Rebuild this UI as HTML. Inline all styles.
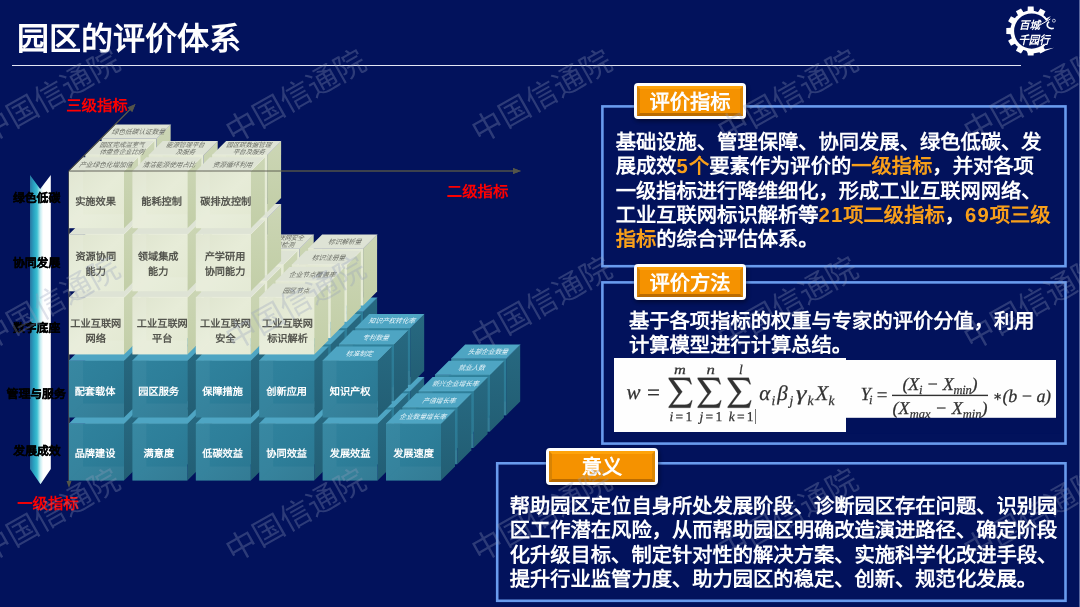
<!DOCTYPE html>
<html lang="zh-CN">
<head>
<meta charset="utf-8">
<title>园区的评价体系</title>
<style>
*{margin:0;padding:0;box-sizing:border-box;text-rendering:geometricPrecision}
html,body{width:1080px;height:607px;overflow:hidden;background:#02125c}
body{font-family:"Liberation Sans",sans-serif;position:relative;color:#fff}
#stage{position:absolute;left:0;top:0;width:1080px;height:607px;overflow:hidden;will-change:transform;opacity:.999}
h1{position:absolute;left:17px;top:18.6px;font-size:32px;line-height:40px;font-weight:bold;color:#fff;white-space:nowrap}
.rule{position:absolute;left:11.5px;top:64.7px;width:1009.5px;height:1.7px;background:#e4e7f5}
.edge{position:absolute;left:1079px;top:0;width:1px;height:607px;background:#5b689f}
svg{position:absolute;left:0;top:0}
svg text{font-family:"Liberation Sans",sans-serif}
svg.fm text{font-family:"Liberation Serif",serif}
.lab{position:absolute;font-weight:bold;color:#000;-webkit-text-stroke:.3px #000;font-size:11.85px;line-height:14px;white-space:nowrap;transform:translate(-50%,-50%)}
.red{position:absolute;font-weight:bold;color:#ff0000;font-size:15.4px;line-height:18px;white-space:nowrap}
.box{position:absolute;border:3px solid #6a9cee;background:#02135f}
.tag{position:absolute;height:37px;border:3px solid #fff;border-radius:4px;background:#f69300;box-shadow:1px 2px 4px rgba(0,0,20,.55);color:#fff;font-weight:bold;font-size:20.3px;line-height:35.6px;text-align:center;white-space:nowrap}
.tag::before{content:"";position:absolute;left:0;top:0;right:0;bottom:0;border-style:solid;border-width:3px;border-color:#ffa40c #dd8804 #bb6c00 #d98404;border-radius:1px}
.tag span{position:relative}
.txt{position:absolute;font-weight:bold;font-size:20.3px;line-height:24.3px;color:#fff;white-space:nowrap}
.txt b{color:#f9a01b}
.txt i{font-style:normal;letter-spacing:1.1px}
.wm{position:absolute;width:200px;height:50px;line-height:50px;text-align:center;font-size:31px;color:rgba(150,160,190,.3);transform:rotate(-29.5deg);white-space:nowrap;pointer-events:none}
.fx{position:absolute;background:#fff}
</style>
</head>
<body>
<div id="stage">
<h1>园区的评价体系</h1>
<div class="rule"></div>
<div class="edge"></div>

<svg width="1080" height="607" viewBox="0 0 1080 607">
<defs>
<linearGradient id="gf" x1="0" y1="0" x2="1" y2="1"><stop offset="0" stop-color="#dfe5cf"/><stop offset=".5" stop-color="#e8edd9"/><stop offset="1" stop-color="#e3e9d2"/></linearGradient>
<linearGradient id="gs" x1="0" y1="0" x2="0" y2="1"><stop offset="0" stop-color="#cdd7b6"/><stop offset="1" stop-color="#c3cfa8"/></linearGradient>
<linearGradient id="tf" x1="0" y1="0" x2="1" y2="1"><stop offset="0" stop-color="#31849f"/><stop offset=".5" stop-color="#2e7f9a"/><stop offset="1" stop-color="#2b7791"/></linearGradient>
<linearGradient id="ts" x1="0" y1="0" x2="0" y2="1"><stop offset="0" stop-color="#286a82"/><stop offset="1" stop-color="#235f75"/></linearGradient>
<linearGradient id="ar" x1="0" y1="0" x2="1" y2="0"><stop offset="0" stop-color="#2b78a2"/><stop offset=".18" stop-color="#2aa2c2"/><stop offset=".34" stop-color="#3cc0d2"/><stop offset=".5" stop-color="#c8eef2"/><stop offset=".63" stop-color="#ffffff"/><stop offset="1" stop-color="#ffffff"/></linearGradient>
</defs>
<!-- axes -->
<g stroke="#55564a" stroke-width="1.2" fill="#55564a">
<line x1="69" y1="171" x2="516" y2="171"/>
<polygon points="521,171 513,168 513,174" stroke="none"/>
<line x1="69" y1="171" x2="132" y2="107.5"/>
<polygon points="135.5,104 127.6,107.4 132.2,112" stroke="none"/>
<line x1="69" y1="171" x2="69" y2="483"/>
<polygon points="69,488 66.5,481 71.5,481" stroke="none"/>
</g>
<!-- left arrow -->
<polygon points="30,175 40.2,189 50.8,175 50.8,469 40.5,484.2 30,469" fill="url(#ar)"/>
<!-- cubes -->
<g id="cubes">
<polygon points="506.2,358.4 520.2,344.4 520.2,401.4 506.2,415.4" fill="url(#ts)"/>
<polygon points="451.2,358.4 465.2,344.4 520.2,344.4 506.2,358.4" fill="#4fa6c4"/>
<rect x="451.2" y="358.4" width="55" height="57" fill="url(#tf)"/>
<polygon points="451.2,358.4 465.2,358.4 465.2,401.4 451.2,415.4" fill="#ffffff" opacity="0.045"/>
<polygon points="451.2,415.4 465.2,401.4 506.2,401.4 506.2,415.4" fill="#ffffff" opacity="0.045"/>
<path d="M451.2,358.4 h55 M506.2,358.4 l14,-14" stroke="#62b5d0" stroke-width="0.6" fill="none" opacity="0.7"/>
<text x="487.5" y="353.8" font-size="6.65" fill="#eaf6fb" text-anchor="middle" font-style="italic" transform="translate(487.5,353.8) skewX(-12) translate(-487.5,-353.8)">头部企业数量</text>
<polygon points="363.1,374.7 377.1,360.7 377.1,417.7 363.1,431.7" fill="url(#ts)"/>
<polygon points="308.1,374.7 322.1,360.7 377.1,360.7 363.1,374.7" fill="#4fa6c4"/>
<rect x="308.1" y="374.7" width="55" height="57" fill="url(#tf)"/>
<polygon points="308.1,374.7 322.1,374.7 322.1,417.7 308.1,431.7" fill="#ffffff" opacity="0.045"/>
<polygon points="308.1,431.7 322.1,417.7 363.1,417.7 363.1,431.7" fill="#ffffff" opacity="0.045"/>
<path d="M308.1,374.7 h55 M363.1,374.7 l14,-14" stroke="#62b5d0" stroke-width="0.6" fill="none" opacity="0.7"/>
<polygon points="489.9,374.7 503.9,360.7 503.9,417.7 489.9,431.7" fill="url(#ts)"/>
<polygon points="434.9,374.7 448.9,360.7 503.9,360.7 489.9,374.7" fill="#4fa6c4"/>
<rect x="434.9" y="374.7" width="55" height="57" fill="url(#tf)"/>
<polygon points="434.9,374.7 448.9,374.7 448.9,417.7 434.9,431.7" fill="#ffffff" opacity="0.045"/>
<polygon points="434.9,431.7 448.9,417.7 489.9,417.7 489.9,431.7" fill="#ffffff" opacity="0.045"/>
<path d="M434.9,374.7 h55 M489.9,374.7 l14,-14" stroke="#62b5d0" stroke-width="0.6" fill="none" opacity="0.7"/>
<text x="471.2" y="370.1" font-size="6.65" fill="#eaf6fb" text-anchor="middle" font-style="italic" transform="translate(471.2,370.1) skewX(-12) translate(-471.2,-370.1)">就业人数</text>
<polygon points="299.7,311.6 313.7,297.6 313.7,354.6 299.7,368.6" fill="url(#ts)"/>
<polygon points="244.7,311.6 258.7,297.6 313.7,297.6 299.7,311.6" fill="#4fa6c4"/>
<rect x="244.7" y="311.6" width="55" height="57" fill="url(#tf)"/>
<polygon points="244.7,311.6 258.7,311.6 258.7,354.6 244.7,368.6" fill="#ffffff" opacity="0.045"/>
<polygon points="244.7,368.6 258.7,354.6 299.7,354.6 299.7,368.6" fill="#ffffff" opacity="0.045"/>
<path d="M244.7,311.6 h55 M299.7,311.6 l14,-14" stroke="#62b5d0" stroke-width="0.6" fill="none" opacity="0.7"/>
<polygon points="363.1,311.6 377.1,297.6 377.1,354.6 363.1,368.6" fill="url(#ts)"/>
<polygon points="308.1,311.6 322.1,297.6 377.1,297.6 363.1,311.6" fill="#4fa6c4"/>
<rect x="308.1" y="311.6" width="55" height="57" fill="url(#tf)"/>
<polygon points="308.1,311.6 322.1,311.6 322.1,354.6 308.1,368.6" fill="#ffffff" opacity="0.045"/>
<polygon points="308.1,368.6 322.1,354.6 363.1,354.6 363.1,368.6" fill="#ffffff" opacity="0.045"/>
<path d="M308.1,311.6 h55 M363.1,311.6 l14,-14" stroke="#62b5d0" stroke-width="0.6" fill="none" opacity="0.7"/>
<polygon points="299.7,248.5 313.7,234.5 313.7,291.5 299.7,305.5" fill="url(#gs)"/>
<polygon points="244.7,248.5 258.7,234.5 313.7,234.5 299.7,248.5" fill="#dfe4d6"/>
<rect x="244.7" y="248.5" width="55" height="57" fill="url(#gf)"/>
<polygon points="244.7,248.5 258.7,248.5 258.7,291.5 244.7,305.5" fill="#ffffff" opacity="0.1"/>
<polygon points="244.7,305.5 258.7,291.5 299.7,291.5 299.7,305.5" fill="#ffffff" opacity="0.1"/>
<path d="M244.7,248.5 h55 M299.7,248.5 l14,-14" stroke="#f2f5e8" stroke-width="0.6" fill="none" opacity="0.7"/>
<text x="281" y="240.3" font-size="6.4" fill="#6b6e66" text-anchor="middle" font-style="italic" transform="translate(281,240.3) skewX(-12) translate(-281,-240.3)">工业互联网安全</text>
<text x="281" y="247.3" font-size="6.4" fill="#6b6e66" text-anchor="middle" font-style="italic" transform="translate(281,247.3) skewX(-12) translate(-281,-247.3)">保障检测</text>
<polygon points="363.1,248.5 377.1,234.5 377.1,291.5 363.1,305.5" fill="url(#gs)"/>
<polygon points="308.1,248.5 322.1,234.5 377.1,234.5 363.1,248.5" fill="#dfe4d6"/>
<rect x="308.1" y="248.5" width="55" height="57" fill="url(#gf)"/>
<polygon points="308.1,248.5 322.1,248.5 322.1,291.5 308.1,305.5" fill="#ffffff" opacity="0.1"/>
<polygon points="308.1,305.5 322.1,291.5 363.1,291.5 363.1,305.5" fill="#ffffff" opacity="0.1"/>
<path d="M308.1,248.5 h55 M363.1,248.5 l14,-14" stroke="#f2f5e8" stroke-width="0.6" fill="none" opacity="0.7"/>
<text x="344.4" y="243.9" font-size="6.65" fill="#6b6e66" text-anchor="middle" font-style="italic" transform="translate(344.4,243.9) skewX(-12) translate(-344.4,-243.9)">标识解析量</text>
<polygon points="156.6,391 170.6,377 170.6,434 156.6,448" fill="url(#ts)"/>
<polygon points="101.6,391 115.6,377 170.6,377 156.6,391" fill="#4fa6c4"/>
<rect x="101.6" y="391" width="55" height="57" fill="url(#tf)"/>
<polygon points="101.6,391 115.6,391 115.6,434 101.6,448" fill="#ffffff" opacity="0.045"/>
<polygon points="101.6,448 115.6,434 156.6,434 156.6,448" fill="#ffffff" opacity="0.045"/>
<path d="M101.6,391 h55 M156.6,391 l14,-14" stroke="#62b5d0" stroke-width="0.6" fill="none" opacity="0.7"/>
<polygon points="220,391 234,377 234,434 220,448" fill="url(#ts)"/>
<polygon points="165,391 179,377 234,377 220,391" fill="#4fa6c4"/>
<rect x="165" y="391" width="55" height="57" fill="url(#tf)"/>
<polygon points="165,391 179,391 179,434 165,448" fill="#ffffff" opacity="0.045"/>
<polygon points="165,448 179,434 220,434 220,448" fill="#ffffff" opacity="0.045"/>
<path d="M165,391 h55 M220,391 l14,-14" stroke="#62b5d0" stroke-width="0.6" fill="none" opacity="0.7"/>
<polygon points="283.4,391 297.4,377 297.4,434 283.4,448" fill="url(#ts)"/>
<polygon points="228.4,391 242.4,377 297.4,377 283.4,391" fill="#4fa6c4"/>
<rect x="228.4" y="391" width="55" height="57" fill="url(#tf)"/>
<polygon points="228.4,391 242.4,391 242.4,434 228.4,448" fill="#ffffff" opacity="0.045"/>
<polygon points="228.4,448 242.4,434 283.4,434 283.4,448" fill="#ffffff" opacity="0.045"/>
<path d="M228.4,391 h55 M283.4,391 l14,-14" stroke="#62b5d0" stroke-width="0.6" fill="none" opacity="0.7"/>
<polygon points="346.8,391 360.8,377 360.8,434 346.8,448" fill="url(#ts)"/>
<polygon points="291.8,391 305.8,377 360.8,377 346.8,391" fill="#4fa6c4"/>
<rect x="291.8" y="391" width="55" height="57" fill="url(#tf)"/>
<polygon points="291.8,391 305.8,391 305.8,434 291.8,448" fill="#ffffff" opacity="0.045"/>
<polygon points="291.8,448 305.8,434 346.8,434 346.8,448" fill="#ffffff" opacity="0.045"/>
<path d="M291.8,391 h55 M346.8,391 l14,-14" stroke="#62b5d0" stroke-width="0.6" fill="none" opacity="0.7"/>
<polygon points="410.2,391 424.2,377 424.2,434 410.2,448" fill="url(#ts)"/>
<polygon points="355.2,391 369.2,377 424.2,377 410.2,391" fill="#4fa6c4"/>
<rect x="355.2" y="391" width="55" height="57" fill="url(#tf)"/>
<polygon points="355.2,391 369.2,391 369.2,434 355.2,448" fill="#ffffff" opacity="0.045"/>
<polygon points="355.2,448 369.2,434 410.2,434 410.2,448" fill="#ffffff" opacity="0.045"/>
<path d="M355.2,391 h55 M410.2,391 l14,-14" stroke="#62b5d0" stroke-width="0.6" fill="none" opacity="0.7"/>
<polygon points="473.6,391 487.6,377 487.6,434 473.6,448" fill="url(#ts)"/>
<polygon points="418.6,391 432.6,377 487.6,377 473.6,391" fill="#4fa6c4"/>
<rect x="418.6" y="391" width="55" height="57" fill="url(#tf)"/>
<polygon points="418.6,391 432.6,391 432.6,434 418.6,448" fill="#ffffff" opacity="0.045"/>
<polygon points="418.6,448 432.6,434 473.6,434 473.6,448" fill="#ffffff" opacity="0.045"/>
<path d="M418.6,391 h55 M473.6,391 l14,-14" stroke="#62b5d0" stroke-width="0.6" fill="none" opacity="0.7"/>
<text x="454.9" y="386.4" font-size="6.65" fill="#eaf6fb" text-anchor="middle" font-style="italic" transform="translate(454.9,386.4) skewX(-12) translate(-454.9,-386.4)">新兴企业增长率</text>
<polygon points="156.6,327.9 170.6,313.9 170.6,370.9 156.6,384.9" fill="url(#ts)"/>
<polygon points="101.6,327.9 115.6,313.9 170.6,313.9 156.6,327.9" fill="#4fa6c4"/>
<rect x="101.6" y="327.9" width="55" height="57" fill="url(#tf)"/>
<polygon points="101.6,327.9 115.6,327.9 115.6,370.9 101.6,384.9" fill="#ffffff" opacity="0.045"/>
<polygon points="101.6,384.9 115.6,370.9 156.6,370.9 156.6,384.9" fill="#ffffff" opacity="0.045"/>
<path d="M101.6,327.9 h55 M156.6,327.9 l14,-14" stroke="#62b5d0" stroke-width="0.6" fill="none" opacity="0.7"/>
<polygon points="220,327.9 234,313.9 234,370.9 220,384.9" fill="url(#ts)"/>
<polygon points="165,327.9 179,313.9 234,313.9 220,327.9" fill="#4fa6c4"/>
<rect x="165" y="327.9" width="55" height="57" fill="url(#tf)"/>
<polygon points="165,327.9 179,327.9 179,370.9 165,384.9" fill="#ffffff" opacity="0.045"/>
<polygon points="165,384.9 179,370.9 220,370.9 220,384.9" fill="#ffffff" opacity="0.045"/>
<path d="M165,327.9 h55 M220,327.9 l14,-14" stroke="#62b5d0" stroke-width="0.6" fill="none" opacity="0.7"/>
<polygon points="283.4,327.9 297.4,313.9 297.4,370.9 283.4,384.9" fill="url(#ts)"/>
<polygon points="228.4,327.9 242.4,313.9 297.4,313.9 283.4,327.9" fill="#4fa6c4"/>
<rect x="228.4" y="327.9" width="55" height="57" fill="url(#tf)"/>
<polygon points="228.4,327.9 242.4,327.9 242.4,370.9 228.4,384.9" fill="#ffffff" opacity="0.045"/>
<polygon points="228.4,384.9 242.4,370.9 283.4,370.9 283.4,384.9" fill="#ffffff" opacity="0.045"/>
<path d="M228.4,327.9 h55 M283.4,327.9 l14,-14" stroke="#62b5d0" stroke-width="0.6" fill="none" opacity="0.7"/>
<polygon points="346.8,327.9 360.8,313.9 360.8,370.9 346.8,384.9" fill="url(#ts)"/>
<polygon points="291.8,327.9 305.8,313.9 360.8,313.9 346.8,327.9" fill="#4fa6c4"/>
<rect x="291.8" y="327.9" width="55" height="57" fill="url(#tf)"/>
<polygon points="291.8,327.9 305.8,327.9 305.8,370.9 291.8,384.9" fill="#ffffff" opacity="0.045"/>
<polygon points="291.8,384.9 305.8,370.9 346.8,370.9 346.8,384.9" fill="#ffffff" opacity="0.045"/>
<path d="M291.8,327.9 h55 M346.8,327.9 l14,-14" stroke="#62b5d0" stroke-width="0.6" fill="none" opacity="0.7"/>
<polygon points="410.2,327.9 424.2,313.9 424.2,370.9 410.2,384.9" fill="url(#ts)"/>
<polygon points="355.2,327.9 369.2,313.9 424.2,313.9 410.2,327.9" fill="#4fa6c4"/>
<rect x="355.2" y="327.9" width="55" height="57" fill="url(#tf)"/>
<polygon points="355.2,327.9 369.2,327.9 369.2,370.9 355.2,384.9" fill="#ffffff" opacity="0.045"/>
<polygon points="355.2,384.9 369.2,370.9 410.2,370.9 410.2,384.9" fill="#ffffff" opacity="0.045"/>
<path d="M355.2,327.9 h55 M410.2,327.9 l14,-14" stroke="#62b5d0" stroke-width="0.6" fill="none" opacity="0.7"/>
<text x="391.5" y="323.3" font-size="6.65" fill="#eaf6fb" text-anchor="middle" font-style="italic" transform="translate(391.5,323.3) skewX(-12) translate(-391.5,-323.3)">知识产权转化率</text>
<polygon points="156.6,264.8 170.6,250.8 170.6,307.8 156.6,321.8" fill="url(#gs)"/>
<polygon points="101.6,264.8 115.6,250.8 170.6,250.8 156.6,264.8" fill="#dfe4d6"/>
<rect x="101.6" y="264.8" width="55" height="57" fill="url(#gf)"/>
<polygon points="101.6,264.8 115.6,264.8 115.6,307.8 101.6,321.8" fill="#ffffff" opacity="0.1"/>
<polygon points="101.6,321.8 115.6,307.8 156.6,307.8 156.6,321.8" fill="#ffffff" opacity="0.1"/>
<path d="M101.6,264.8 h55 M156.6,264.8 l14,-14" stroke="#f2f5e8" stroke-width="0.6" fill="none" opacity="0.7"/>
<polygon points="220,264.8 234,250.8 234,307.8 220,321.8" fill="url(#gs)"/>
<polygon points="165,264.8 179,250.8 234,250.8 220,264.8" fill="#dfe4d6"/>
<rect x="165" y="264.8" width="55" height="57" fill="url(#gf)"/>
<polygon points="165,264.8 179,264.8 179,307.8 165,321.8" fill="#ffffff" opacity="0.1"/>
<polygon points="165,321.8 179,307.8 220,307.8 220,321.8" fill="#ffffff" opacity="0.1"/>
<path d="M165,264.8 h55 M220,264.8 l14,-14" stroke="#f2f5e8" stroke-width="0.6" fill="none" opacity="0.7"/>
<polygon points="283.4,264.8 297.4,250.8 297.4,307.8 283.4,321.8" fill="url(#gs)"/>
<polygon points="228.4,264.8 242.4,250.8 297.4,250.8 283.4,264.8" fill="#dfe4d6"/>
<rect x="228.4" y="264.8" width="55" height="57" fill="url(#gf)"/>
<polygon points="228.4,264.8 242.4,264.8 242.4,307.8 228.4,321.8" fill="#ffffff" opacity="0.1"/>
<polygon points="228.4,321.8 242.4,307.8 283.4,307.8 283.4,321.8" fill="#ffffff" opacity="0.1"/>
<path d="M228.4,264.8 h55 M283.4,264.8 l14,-14" stroke="#f2f5e8" stroke-width="0.6" fill="none" opacity="0.7"/>
<polygon points="346.8,264.8 360.8,250.8 360.8,307.8 346.8,321.8" fill="url(#gs)"/>
<polygon points="291.8,264.8 305.8,250.8 360.8,250.8 346.8,264.8" fill="#dfe4d6"/>
<rect x="291.8" y="264.8" width="55" height="57" fill="url(#gf)"/>
<polygon points="291.8,264.8 305.8,264.8 305.8,307.8 291.8,321.8" fill="#ffffff" opacity="0.1"/>
<polygon points="291.8,321.8 305.8,307.8 346.8,307.8 346.8,321.8" fill="#ffffff" opacity="0.1"/>
<path d="M291.8,264.8 h55 M346.8,264.8 l14,-14" stroke="#f2f5e8" stroke-width="0.6" fill="none" opacity="0.7"/>
<text x="328.1" y="260.2" font-size="6.65" fill="#6b6e66" text-anchor="middle" font-style="italic" transform="translate(328.1,260.2) skewX(-12) translate(-328.1,-260.2)">标识注册量</text>
<polygon points="156.6,201.7 170.6,187.7 170.6,244.7 156.6,258.7" fill="url(#gs)"/>
<polygon points="101.6,201.7 115.6,187.7 170.6,187.7 156.6,201.7" fill="#dfe4d6"/>
<rect x="101.6" y="201.7" width="55" height="57" fill="url(#gf)"/>
<polygon points="101.6,201.7 115.6,201.7 115.6,244.7 101.6,258.7" fill="#ffffff" opacity="0.1"/>
<polygon points="101.6,258.7 115.6,244.7 156.6,244.7 156.6,258.7" fill="#ffffff" opacity="0.1"/>
<path d="M101.6,201.7 h55 M156.6,201.7 l14,-14" stroke="#f2f5e8" stroke-width="0.6" fill="none" opacity="0.7"/>
<polygon points="156.6,138.6 170.6,124.6 170.6,181.6 156.6,195.6" fill="url(#gs)"/>
<polygon points="101.6,138.6 115.6,124.6 170.6,124.6 156.6,138.6" fill="#dfe4d6"/>
<rect x="101.6" y="138.6" width="55" height="57" fill="url(#gf)"/>
<polygon points="101.6,138.6 115.6,138.6 115.6,181.6 101.6,195.6" fill="#ffffff" opacity="0.1"/>
<polygon points="101.6,195.6 115.6,181.6 156.6,181.6 156.6,195.6" fill="#ffffff" opacity="0.1"/>
<path d="M101.6,138.6 h55 M156.6,138.6 l14,-14" stroke="#f2f5e8" stroke-width="0.6" fill="none" opacity="0.7"/>
<text x="137.9" y="134" font-size="6.65" fill="#6b6e66" text-anchor="middle" font-style="italic" transform="translate(137.9,134) skewX(-12) translate(-137.9,-134)">绿色低碳认证数量</text>
<polygon points="140.3,407.3 154.3,393.3 154.3,450.3 140.3,464.3" fill="url(#ts)"/>
<polygon points="85.3,407.3 99.3,393.3 154.3,393.3 140.3,407.3" fill="#4fa6c4"/>
<rect x="85.3" y="407.3" width="55" height="57" fill="url(#tf)"/>
<polygon points="85.3,407.3 99.3,407.3 99.3,450.3 85.3,464.3" fill="#ffffff" opacity="0.045"/>
<polygon points="85.3,464.3 99.3,450.3 140.3,450.3 140.3,464.3" fill="#ffffff" opacity="0.045"/>
<path d="M85.3,407.3 h55 M140.3,407.3 l14,-14" stroke="#62b5d0" stroke-width="0.6" fill="none" opacity="0.7"/>
<polygon points="203.7,407.3 217.7,393.3 217.7,450.3 203.7,464.3" fill="url(#ts)"/>
<polygon points="148.7,407.3 162.7,393.3 217.7,393.3 203.7,407.3" fill="#4fa6c4"/>
<rect x="148.7" y="407.3" width="55" height="57" fill="url(#tf)"/>
<polygon points="148.7,407.3 162.7,407.3 162.7,450.3 148.7,464.3" fill="#ffffff" opacity="0.045"/>
<polygon points="148.7,464.3 162.7,450.3 203.7,450.3 203.7,464.3" fill="#ffffff" opacity="0.045"/>
<path d="M148.7,407.3 h55 M203.7,407.3 l14,-14" stroke="#62b5d0" stroke-width="0.6" fill="none" opacity="0.7"/>
<polygon points="267.1,407.3 281.1,393.3 281.1,450.3 267.1,464.3" fill="url(#ts)"/>
<polygon points="212.1,407.3 226.1,393.3 281.1,393.3 267.1,407.3" fill="#4fa6c4"/>
<rect x="212.1" y="407.3" width="55" height="57" fill="url(#tf)"/>
<polygon points="212.1,407.3 226.1,407.3 226.1,450.3 212.1,464.3" fill="#ffffff" opacity="0.045"/>
<polygon points="212.1,464.3 226.1,450.3 267.1,450.3 267.1,464.3" fill="#ffffff" opacity="0.045"/>
<path d="M212.1,407.3 h55 M267.1,407.3 l14,-14" stroke="#62b5d0" stroke-width="0.6" fill="none" opacity="0.7"/>
<polygon points="330.5,407.3 344.5,393.3 344.5,450.3 330.5,464.3" fill="url(#ts)"/>
<polygon points="275.5,407.3 289.5,393.3 344.5,393.3 330.5,407.3" fill="#4fa6c4"/>
<rect x="275.5" y="407.3" width="55" height="57" fill="url(#tf)"/>
<polygon points="275.5,407.3 289.5,407.3 289.5,450.3 275.5,464.3" fill="#ffffff" opacity="0.045"/>
<polygon points="275.5,464.3 289.5,450.3 330.5,450.3 330.5,464.3" fill="#ffffff" opacity="0.045"/>
<path d="M275.5,407.3 h55 M330.5,407.3 l14,-14" stroke="#62b5d0" stroke-width="0.6" fill="none" opacity="0.7"/>
<polygon points="393.9,407.3 407.9,393.3 407.9,450.3 393.9,464.3" fill="url(#ts)"/>
<polygon points="338.9,407.3 352.9,393.3 407.9,393.3 393.9,407.3" fill="#4fa6c4"/>
<rect x="338.9" y="407.3" width="55" height="57" fill="url(#tf)"/>
<polygon points="338.9,407.3 352.9,407.3 352.9,450.3 338.9,464.3" fill="#ffffff" opacity="0.045"/>
<polygon points="338.9,464.3 352.9,450.3 393.9,450.3 393.9,464.3" fill="#ffffff" opacity="0.045"/>
<path d="M338.9,407.3 h55 M393.9,407.3 l14,-14" stroke="#62b5d0" stroke-width="0.6" fill="none" opacity="0.7"/>
<polygon points="457.3,407.3 471.3,393.3 471.3,450.3 457.3,464.3" fill="url(#ts)"/>
<polygon points="402.3,407.3 416.3,393.3 471.3,393.3 457.3,407.3" fill="#4fa6c4"/>
<rect x="402.3" y="407.3" width="55" height="57" fill="url(#tf)"/>
<polygon points="402.3,407.3 416.3,407.3 416.3,450.3 402.3,464.3" fill="#ffffff" opacity="0.045"/>
<polygon points="402.3,464.3 416.3,450.3 457.3,450.3 457.3,464.3" fill="#ffffff" opacity="0.045"/>
<path d="M402.3,407.3 h55 M457.3,407.3 l14,-14" stroke="#62b5d0" stroke-width="0.6" fill="none" opacity="0.7"/>
<text x="438.6" y="402.7" font-size="6.65" fill="#eaf6fb" text-anchor="middle" font-style="italic" transform="translate(438.6,402.7) skewX(-12) translate(-438.6,-402.7)">产值增长率</text>
<polygon points="140.3,344.2 154.3,330.2 154.3,387.2 140.3,401.2" fill="url(#ts)"/>
<polygon points="85.3,344.2 99.3,330.2 154.3,330.2 140.3,344.2" fill="#4fa6c4"/>
<rect x="85.3" y="344.2" width="55" height="57" fill="url(#tf)"/>
<polygon points="85.3,344.2 99.3,344.2 99.3,387.2 85.3,401.2" fill="#ffffff" opacity="0.045"/>
<polygon points="85.3,401.2 99.3,387.2 140.3,387.2 140.3,401.2" fill="#ffffff" opacity="0.045"/>
<path d="M85.3,344.2 h55 M140.3,344.2 l14,-14" stroke="#62b5d0" stroke-width="0.6" fill="none" opacity="0.7"/>
<polygon points="203.7,344.2 217.7,330.2 217.7,387.2 203.7,401.2" fill="url(#ts)"/>
<polygon points="148.7,344.2 162.7,330.2 217.7,330.2 203.7,344.2" fill="#4fa6c4"/>
<rect x="148.7" y="344.2" width="55" height="57" fill="url(#tf)"/>
<polygon points="148.7,344.2 162.7,344.2 162.7,387.2 148.7,401.2" fill="#ffffff" opacity="0.045"/>
<polygon points="148.7,401.2 162.7,387.2 203.7,387.2 203.7,401.2" fill="#ffffff" opacity="0.045"/>
<path d="M148.7,344.2 h55 M203.7,344.2 l14,-14" stroke="#62b5d0" stroke-width="0.6" fill="none" opacity="0.7"/>
<polygon points="267.1,344.2 281.1,330.2 281.1,387.2 267.1,401.2" fill="url(#ts)"/>
<polygon points="212.1,344.2 226.1,330.2 281.1,330.2 267.1,344.2" fill="#4fa6c4"/>
<rect x="212.1" y="344.2" width="55" height="57" fill="url(#tf)"/>
<polygon points="212.1,344.2 226.1,344.2 226.1,387.2 212.1,401.2" fill="#ffffff" opacity="0.045"/>
<polygon points="212.1,401.2 226.1,387.2 267.1,387.2 267.1,401.2" fill="#ffffff" opacity="0.045"/>
<path d="M212.1,344.2 h55 M267.1,344.2 l14,-14" stroke="#62b5d0" stroke-width="0.6" fill="none" opacity="0.7"/>
<polygon points="330.5,344.2 344.5,330.2 344.5,387.2 330.5,401.2" fill="url(#ts)"/>
<polygon points="275.5,344.2 289.5,330.2 344.5,330.2 330.5,344.2" fill="#4fa6c4"/>
<rect x="275.5" y="344.2" width="55" height="57" fill="url(#tf)"/>
<polygon points="275.5,344.2 289.5,344.2 289.5,387.2 275.5,401.2" fill="#ffffff" opacity="0.045"/>
<polygon points="275.5,401.2 289.5,387.2 330.5,387.2 330.5,401.2" fill="#ffffff" opacity="0.045"/>
<path d="M275.5,344.2 h55 M330.5,344.2 l14,-14" stroke="#62b5d0" stroke-width="0.6" fill="none" opacity="0.7"/>
<polygon points="393.9,344.2 407.9,330.2 407.9,387.2 393.9,401.2" fill="url(#ts)"/>
<polygon points="338.9,344.2 352.9,330.2 407.9,330.2 393.9,344.2" fill="#4fa6c4"/>
<rect x="338.9" y="344.2" width="55" height="57" fill="url(#tf)"/>
<polygon points="338.9,344.2 352.9,344.2 352.9,387.2 338.9,401.2" fill="#ffffff" opacity="0.045"/>
<polygon points="338.9,401.2 352.9,387.2 393.9,387.2 393.9,401.2" fill="#ffffff" opacity="0.045"/>
<path d="M338.9,344.2 h55 M393.9,344.2 l14,-14" stroke="#62b5d0" stroke-width="0.6" fill="none" opacity="0.7"/>
<text x="375.2" y="339.6" font-size="6.65" fill="#eaf6fb" text-anchor="middle" font-style="italic" transform="translate(375.2,339.6) skewX(-12) translate(-375.2,-339.6)">专利数量</text>
<polygon points="140.3,281.1 154.3,267.1 154.3,324.1 140.3,338.1" fill="url(#gs)"/>
<polygon points="85.3,281.1 99.3,267.1 154.3,267.1 140.3,281.1" fill="#dfe4d6"/>
<rect x="85.3" y="281.1" width="55" height="57" fill="url(#gf)"/>
<polygon points="85.3,281.1 99.3,281.1 99.3,324.1 85.3,338.1" fill="#ffffff" opacity="0.1"/>
<polygon points="85.3,338.1 99.3,324.1 140.3,324.1 140.3,338.1" fill="#ffffff" opacity="0.1"/>
<path d="M85.3,281.1 h55 M140.3,281.1 l14,-14" stroke="#f2f5e8" stroke-width="0.6" fill="none" opacity="0.7"/>
<polygon points="203.7,281.1 217.7,267.1 217.7,324.1 203.7,338.1" fill="url(#gs)"/>
<polygon points="148.7,281.1 162.7,267.1 217.7,267.1 203.7,281.1" fill="#dfe4d6"/>
<rect x="148.7" y="281.1" width="55" height="57" fill="url(#gf)"/>
<polygon points="148.7,281.1 162.7,281.1 162.7,324.1 148.7,338.1" fill="#ffffff" opacity="0.1"/>
<polygon points="148.7,338.1 162.7,324.1 203.7,324.1 203.7,338.1" fill="#ffffff" opacity="0.1"/>
<path d="M148.7,281.1 h55 M203.7,281.1 l14,-14" stroke="#f2f5e8" stroke-width="0.6" fill="none" opacity="0.7"/>
<polygon points="267.1,281.1 281.1,267.1 281.1,324.1 267.1,338.1" fill="url(#gs)"/>
<polygon points="212.1,281.1 226.1,267.1 281.1,267.1 267.1,281.1" fill="#dfe4d6"/>
<rect x="212.1" y="281.1" width="55" height="57" fill="url(#gf)"/>
<polygon points="212.1,281.1 226.1,281.1 226.1,324.1 212.1,338.1" fill="#ffffff" opacity="0.1"/>
<polygon points="212.1,338.1 226.1,324.1 267.1,324.1 267.1,338.1" fill="#ffffff" opacity="0.1"/>
<path d="M212.1,281.1 h55 M267.1,281.1 l14,-14" stroke="#f2f5e8" stroke-width="0.6" fill="none" opacity="0.7"/>
<polygon points="330.5,281.1 344.5,267.1 344.5,324.1 330.5,338.1" fill="url(#gs)"/>
<polygon points="275.5,281.1 289.5,267.1 344.5,267.1 330.5,281.1" fill="#dfe4d6"/>
<rect x="275.5" y="281.1" width="55" height="57" fill="url(#gf)"/>
<polygon points="275.5,281.1 289.5,281.1 289.5,324.1 275.5,338.1" fill="#ffffff" opacity="0.1"/>
<polygon points="275.5,338.1 289.5,324.1 330.5,324.1 330.5,338.1" fill="#ffffff" opacity="0.1"/>
<path d="M275.5,281.1 h55 M330.5,281.1 l14,-14" stroke="#f2f5e8" stroke-width="0.6" fill="none" opacity="0.7"/>
<text x="311.8" y="276.5" font-size="6.65" fill="#6b6e66" text-anchor="middle" font-style="italic" transform="translate(311.8,276.5) skewX(-12) translate(-311.8,-276.5)">企业节点覆盖率</text>
<polygon points="140.3,218 154.3,204 154.3,261 140.3,275" fill="url(#gs)"/>
<polygon points="85.3,218 99.3,204 154.3,204 140.3,218" fill="#dfe4d6"/>
<rect x="85.3" y="218" width="55" height="57" fill="url(#gf)"/>
<polygon points="85.3,218 99.3,218 99.3,261 85.3,275" fill="#ffffff" opacity="0.1"/>
<polygon points="85.3,275 99.3,261 140.3,261 140.3,275" fill="#ffffff" opacity="0.1"/>
<path d="M85.3,218 h55 M140.3,218 l14,-14" stroke="#f2f5e8" stroke-width="0.6" fill="none" opacity="0.7"/>
<polygon points="203.7,218 217.7,204 217.7,261 203.7,275" fill="url(#gs)"/>
<polygon points="148.7,218 162.7,204 217.7,204 203.7,218" fill="#dfe4d6"/>
<rect x="148.7" y="218" width="55" height="57" fill="url(#gf)"/>
<polygon points="148.7,218 162.7,218 162.7,261 148.7,275" fill="#ffffff" opacity="0.1"/>
<polygon points="148.7,275 162.7,261 203.7,261 203.7,275" fill="#ffffff" opacity="0.1"/>
<path d="M148.7,218 h55 M203.7,218 l14,-14" stroke="#f2f5e8" stroke-width="0.6" fill="none" opacity="0.7"/>
<polygon points="267.1,218 281.1,204 281.1,261 267.1,275" fill="url(#gs)"/>
<polygon points="212.1,218 226.1,204 281.1,204 267.1,218" fill="#dfe4d6"/>
<rect x="212.1" y="218" width="55" height="57" fill="url(#gf)"/>
<polygon points="212.1,218 226.1,218 226.1,261 212.1,275" fill="#ffffff" opacity="0.1"/>
<polygon points="212.1,275 226.1,261 267.1,261 267.1,275" fill="#ffffff" opacity="0.1"/>
<path d="M212.1,218 h55 M267.1,218 l14,-14" stroke="#f2f5e8" stroke-width="0.6" fill="none" opacity="0.7"/>
<polygon points="140.3,154.9 154.3,140.9 154.3,197.9 140.3,211.9" fill="url(#gs)"/>
<polygon points="85.3,154.9 99.3,140.9 154.3,140.9 140.3,154.9" fill="#dfe4d6"/>
<rect x="85.3" y="154.9" width="55" height="57" fill="url(#gf)"/>
<polygon points="85.3,154.9 99.3,154.9 99.3,197.9 85.3,211.9" fill="#ffffff" opacity="0.1"/>
<polygon points="85.3,211.9 99.3,197.9 140.3,197.9 140.3,211.9" fill="#ffffff" opacity="0.1"/>
<path d="M85.3,154.9 h55 M140.3,154.9 l14,-14" stroke="#f2f5e8" stroke-width="0.6" fill="none" opacity="0.7"/>
<text x="121.6" y="146.7" font-size="6.4" fill="#6b6e66" text-anchor="middle" font-style="italic" transform="translate(121.6,146.7) skewX(-12) translate(-121.6,-146.7)">园区完成温室气</text>
<text x="121.6" y="153.7" font-size="6.4" fill="#6b6e66" text-anchor="middle" font-style="italic" transform="translate(121.6,153.7) skewX(-12) translate(-121.6,-153.7)">体盘查企业比例</text>
<polygon points="203.7,154.9 217.7,140.9 217.7,197.9 203.7,211.9" fill="url(#gs)"/>
<polygon points="148.7,154.9 162.7,140.9 217.7,140.9 203.7,154.9" fill="#dfe4d6"/>
<rect x="148.7" y="154.9" width="55" height="57" fill="url(#gf)"/>
<polygon points="148.7,154.9 162.7,154.9 162.7,197.9 148.7,211.9" fill="#ffffff" opacity="0.1"/>
<polygon points="148.7,211.9 162.7,197.9 203.7,197.9 203.7,211.9" fill="#ffffff" opacity="0.1"/>
<path d="M148.7,154.9 h55 M203.7,154.9 l14,-14" stroke="#f2f5e8" stroke-width="0.6" fill="none" opacity="0.7"/>
<text x="185" y="146.7" font-size="6.4" fill="#6b6e66" text-anchor="middle" font-style="italic" transform="translate(185,146.7) skewX(-12) translate(-185,-146.7)">能源管理平台</text>
<text x="185" y="153.7" font-size="6.4" fill="#6b6e66" text-anchor="middle" font-style="italic" transform="translate(185,153.7) skewX(-12) translate(-185,-153.7)">及服务</text>
<polygon points="267.1,154.9 281.1,140.9 281.1,197.9 267.1,211.9" fill="url(#gs)"/>
<polygon points="212.1,154.9 226.1,140.9 281.1,140.9 267.1,154.9" fill="#dfe4d6"/>
<rect x="212.1" y="154.9" width="55" height="57" fill="url(#gf)"/>
<polygon points="212.1,154.9 226.1,154.9 226.1,197.9 212.1,211.9" fill="#ffffff" opacity="0.1"/>
<polygon points="212.1,211.9 226.1,197.9 267.1,197.9 267.1,211.9" fill="#ffffff" opacity="0.1"/>
<path d="M212.1,154.9 h55 M267.1,154.9 l14,-14" stroke="#f2f5e8" stroke-width="0.6" fill="none" opacity="0.7"/>
<text x="248.4" y="146.7" font-size="6.4" fill="#6b6e66" text-anchor="middle" font-style="italic" transform="translate(248.4,146.7) skewX(-12) translate(-248.4,-146.7)">园区碳数据管理</text>
<text x="248.4" y="153.7" font-size="6.4" fill="#6b6e66" text-anchor="middle" font-style="italic" transform="translate(248.4,153.7) skewX(-12) translate(-248.4,-153.7)">平台及服务</text>
<polygon points="124,423.6 138,409.6 138,466.6 124,480.6" fill="url(#ts)"/>
<polygon points="69,423.6 83,409.6 138,409.6 124,423.6" fill="#4fa6c4"/>
<rect x="69" y="423.6" width="55" height="57" fill="url(#tf)"/>
<polygon points="69,423.6 83,423.6 83,466.6 69,480.6" fill="#ffffff" opacity="0.045"/>
<polygon points="69,480.6 83,466.6 124,466.6 124,480.6" fill="#ffffff" opacity="0.045"/>
<path d="M69,423.6 h55 M124,423.6 l14,-14" stroke="#62b5d0" stroke-width="0.6" fill="none" opacity="0.7"/>
<text x="95" y="457" font-size="10.2" fill="#ffffff" text-anchor="middle" font-weight="bold">品牌建设</text>
<polygon points="187.4,423.6 201.4,409.6 201.4,466.6 187.4,480.6" fill="url(#ts)"/>
<polygon points="132.4,423.6 146.4,409.6 201.4,409.6 187.4,423.6" fill="#4fa6c4"/>
<rect x="132.4" y="423.6" width="55" height="57" fill="url(#tf)"/>
<polygon points="132.4,423.6 146.4,423.6 146.4,466.6 132.4,480.6" fill="#ffffff" opacity="0.045"/>
<polygon points="132.4,480.6 146.4,466.6 187.4,466.6 187.4,480.6" fill="#ffffff" opacity="0.045"/>
<path d="M132.4,423.6 h55 M187.4,423.6 l14,-14" stroke="#62b5d0" stroke-width="0.6" fill="none" opacity="0.7"/>
<text x="158.9" y="457" font-size="10.2" fill="#ffffff" text-anchor="middle" font-weight="bold">满意度</text>
<polygon points="250.8,423.6 264.8,409.6 264.8,466.6 250.8,480.6" fill="url(#ts)"/>
<polygon points="195.8,423.6 209.8,409.6 264.8,409.6 250.8,423.6" fill="#4fa6c4"/>
<rect x="195.8" y="423.6" width="55" height="57" fill="url(#tf)"/>
<polygon points="195.8,423.6 209.8,423.6 209.8,466.6 195.8,480.6" fill="#ffffff" opacity="0.045"/>
<polygon points="195.8,480.6 209.8,466.6 250.8,466.6 250.8,480.6" fill="#ffffff" opacity="0.045"/>
<path d="M195.8,423.6 h55 M250.8,423.6 l14,-14" stroke="#62b5d0" stroke-width="0.6" fill="none" opacity="0.7"/>
<text x="222.6" y="457" font-size="10.2" fill="#ffffff" text-anchor="middle" font-weight="bold">低碳效益</text>
<polygon points="314.2,423.6 328.2,409.6 328.2,466.6 314.2,480.6" fill="url(#ts)"/>
<polygon points="259.2,423.6 273.2,409.6 328.2,409.6 314.2,423.6" fill="#4fa6c4"/>
<rect x="259.2" y="423.6" width="55" height="57" fill="url(#tf)"/>
<polygon points="259.2,423.6 273.2,423.6 273.2,466.6 259.2,480.6" fill="#ffffff" opacity="0.045"/>
<polygon points="259.2,480.6 273.2,466.6 314.2,466.6 314.2,480.6" fill="#ffffff" opacity="0.045"/>
<path d="M259.2,423.6 h55 M314.2,423.6 l14,-14" stroke="#62b5d0" stroke-width="0.6" fill="none" opacity="0.7"/>
<text x="286.7" y="457" font-size="10.2" fill="#ffffff" text-anchor="middle" font-weight="bold">协同效益</text>
<polygon points="377.6,423.6 391.6,409.6 391.6,466.6 377.6,480.6" fill="url(#ts)"/>
<polygon points="322.6,423.6 336.6,409.6 391.6,409.6 377.6,423.6" fill="#4fa6c4"/>
<rect x="322.6" y="423.6" width="55" height="57" fill="url(#tf)"/>
<polygon points="322.6,423.6 336.6,423.6 336.6,466.6 322.6,480.6" fill="#ffffff" opacity="0.045"/>
<polygon points="322.6,480.6 336.6,466.6 377.6,466.6 377.6,480.6" fill="#ffffff" opacity="0.045"/>
<path d="M322.6,423.6 h55 M377.6,423.6 l14,-14" stroke="#62b5d0" stroke-width="0.6" fill="none" opacity="0.7"/>
<text x="350.1" y="457" font-size="10.2" fill="#ffffff" text-anchor="middle" font-weight="bold">发展效益</text>
<polygon points="441,423.6 455,409.6 455,466.6 441,480.6" fill="url(#ts)"/>
<polygon points="386,423.6 400,409.6 455,409.6 441,423.6" fill="#4fa6c4"/>
<rect x="386" y="423.6" width="55" height="57" fill="url(#tf)"/>
<polygon points="386,423.6 400,423.6 400,466.6 386,480.6" fill="#ffffff" opacity="0.045"/>
<polygon points="386,480.6 400,466.6 441,466.6 441,480.6" fill="#ffffff" opacity="0.045"/>
<path d="M386,423.6 h55 M441,423.6 l14,-14" stroke="#62b5d0" stroke-width="0.6" fill="none" opacity="0.7"/>
<text x="422.3" y="419" font-size="6.65" fill="#eaf6fb" text-anchor="middle" font-style="italic" transform="translate(422.3,419) skewX(-12) translate(-422.3,-419)">企业数量增长率</text>
<text x="413.5" y="457" font-size="10.2" fill="#ffffff" text-anchor="middle" font-weight="bold">发展速度</text>
<polygon points="124,360.5 138,346.5 138,403.5 124,417.5" fill="url(#ts)"/>
<polygon points="69,360.5 83,346.5 138,346.5 124,360.5" fill="#4fa6c4"/>
<rect x="69" y="360.5" width="55" height="57" fill="url(#tf)"/>
<polygon points="69,360.5 83,360.5 83,403.5 69,417.5" fill="#ffffff" opacity="0.045"/>
<polygon points="69,417.5 83,403.5 124,403.5 124,417.5" fill="#ffffff" opacity="0.045"/>
<path d="M69,360.5 h55 M124,360.5 l14,-14" stroke="#62b5d0" stroke-width="0.6" fill="none" opacity="0.7"/>
<text x="95" y="394.5" font-size="10.2" fill="#ffffff" text-anchor="middle" font-weight="bold">配套载体</text>
<polygon points="187.4,360.5 201.4,346.5 201.4,403.5 187.4,417.5" fill="url(#ts)"/>
<polygon points="132.4,360.5 146.4,346.5 201.4,346.5 187.4,360.5" fill="#4fa6c4"/>
<rect x="132.4" y="360.5" width="55" height="57" fill="url(#tf)"/>
<polygon points="132.4,360.5 146.4,360.5 146.4,403.5 132.4,417.5" fill="#ffffff" opacity="0.045"/>
<polygon points="132.4,417.5 146.4,403.5 187.4,403.5 187.4,417.5" fill="#ffffff" opacity="0.045"/>
<path d="M132.4,360.5 h55 M187.4,360.5 l14,-14" stroke="#62b5d0" stroke-width="0.6" fill="none" opacity="0.7"/>
<text x="158.7" y="394.5" font-size="10.2" fill="#ffffff" text-anchor="middle" font-weight="bold">园区服务</text>
<polygon points="250.8,360.5 264.8,346.5 264.8,403.5 250.8,417.5" fill="url(#ts)"/>
<polygon points="195.8,360.5 209.8,346.5 264.8,346.5 250.8,360.5" fill="#4fa6c4"/>
<rect x="195.8" y="360.5" width="55" height="57" fill="url(#tf)"/>
<polygon points="195.8,360.5 209.8,360.5 209.8,403.5 195.8,417.5" fill="#ffffff" opacity="0.045"/>
<polygon points="195.8,417.5 209.8,403.5 250.8,403.5 250.8,417.5" fill="#ffffff" opacity="0.045"/>
<path d="M195.8,360.5 h55 M250.8,360.5 l14,-14" stroke="#62b5d0" stroke-width="0.6" fill="none" opacity="0.7"/>
<text x="222.6" y="394.5" font-size="10.2" fill="#ffffff" text-anchor="middle" font-weight="bold">保障措施</text>
<polygon points="314.2,360.5 328.2,346.5 328.2,403.5 314.2,417.5" fill="url(#ts)"/>
<polygon points="259.2,360.5 273.2,346.5 328.2,346.5 314.2,360.5" fill="#4fa6c4"/>
<rect x="259.2" y="360.5" width="55" height="57" fill="url(#tf)"/>
<polygon points="259.2,360.5 273.2,360.5 273.2,403.5 259.2,417.5" fill="#ffffff" opacity="0.045"/>
<polygon points="259.2,417.5 273.2,403.5 314.2,403.5 314.2,417.5" fill="#ffffff" opacity="0.045"/>
<path d="M259.2,360.5 h55 M314.2,360.5 l14,-14" stroke="#62b5d0" stroke-width="0.6" fill="none" opacity="0.7"/>
<text x="286.7" y="394.5" font-size="10.2" fill="#ffffff" text-anchor="middle" font-weight="bold">创新应用</text>
<polygon points="377.6,360.5 391.6,346.5 391.6,403.5 377.6,417.5" fill="url(#ts)"/>
<polygon points="322.6,360.5 336.6,346.5 391.6,346.5 377.6,360.5" fill="#4fa6c4"/>
<rect x="322.6" y="360.5" width="55" height="57" fill="url(#tf)"/>
<polygon points="322.6,360.5 336.6,360.5 336.6,403.5 322.6,417.5" fill="#ffffff" opacity="0.045"/>
<polygon points="322.6,417.5 336.6,403.5 377.6,403.5 377.6,417.5" fill="#ffffff" opacity="0.045"/>
<path d="M322.6,360.5 h55 M377.6,360.5 l14,-14" stroke="#62b5d0" stroke-width="0.6" fill="none" opacity="0.7"/>
<text x="358.9" y="355.9" font-size="6.65" fill="#eaf6fb" text-anchor="middle" font-style="italic" transform="translate(358.9,355.9) skewX(-12) translate(-358.9,-355.9)">标准制定</text>
<text x="350.1" y="394.5" font-size="10.2" fill="#ffffff" text-anchor="middle" font-weight="bold">知识产权</text>
<polygon points="124,297.4 138,283.4 138,340.4 124,354.4" fill="url(#gs)"/>
<polygon points="69,297.4 83,283.4 138,283.4 124,297.4" fill="#dfe4d6"/>
<rect x="69" y="297.4" width="55" height="57" fill="url(#gf)"/>
<polygon points="69,297.4 83,297.4 83,340.4 69,354.4" fill="#ffffff" opacity="0.1"/>
<polygon points="69,354.4 83,340.4 124,340.4 124,354.4" fill="#ffffff" opacity="0.1"/>
<path d="M69,297.4 h55 M124,297.4 l14,-14" stroke="#f2f5e8" stroke-width="0.6" fill="none" opacity="0.7"/>
<text x="95.8" y="327.3" font-size="10.2" fill="#55564f" text-anchor="middle" font-weight="bold">工业互联网</text>
<text x="95.8" y="341.8" font-size="10.2" fill="#55564f" text-anchor="middle" font-weight="bold">网络</text>
<polygon points="187.4,297.4 201.4,283.4 201.4,340.4 187.4,354.4" fill="url(#gs)"/>
<polygon points="132.4,297.4 146.4,283.4 201.4,283.4 187.4,297.4" fill="#dfe4d6"/>
<rect x="132.4" y="297.4" width="55" height="57" fill="url(#gf)"/>
<polygon points="132.4,297.4 146.4,297.4 146.4,340.4 132.4,354.4" fill="#ffffff" opacity="0.1"/>
<polygon points="132.4,354.4 146.4,340.4 187.4,340.4 187.4,354.4" fill="#ffffff" opacity="0.1"/>
<path d="M132.4,297.4 h55 M187.4,297.4 l14,-14" stroke="#f2f5e8" stroke-width="0.6" fill="none" opacity="0.7"/>
<text x="162.3" y="327.3" font-size="10.2" fill="#55564f" text-anchor="middle" font-weight="bold">工业互联网</text>
<text x="162.3" y="341.8" font-size="10.2" fill="#55564f" text-anchor="middle" font-weight="bold">平台</text>
<polygon points="250.8,297.4 264.8,283.4 264.8,340.4 250.8,354.4" fill="url(#gs)"/>
<polygon points="195.8,297.4 209.8,283.4 264.8,283.4 250.8,297.4" fill="#dfe4d6"/>
<rect x="195.8" y="297.4" width="55" height="57" fill="url(#gf)"/>
<polygon points="195.8,297.4 209.8,297.4 209.8,340.4 195.8,354.4" fill="#ffffff" opacity="0.1"/>
<polygon points="195.8,354.4 209.8,340.4 250.8,340.4 250.8,354.4" fill="#ffffff" opacity="0.1"/>
<path d="M195.8,297.4 h55 M250.8,297.4 l14,-14" stroke="#f2f5e8" stroke-width="0.6" fill="none" opacity="0.7"/>
<text x="225.5" y="327.3" font-size="10.2" fill="#55564f" text-anchor="middle" font-weight="bold">工业互联网</text>
<text x="225.5" y="341.8" font-size="10.2" fill="#55564f" text-anchor="middle" font-weight="bold">安全</text>
<polygon points="314.2,297.4 328.2,283.4 328.2,340.4 314.2,354.4" fill="url(#gs)"/>
<polygon points="259.2,297.4 273.2,283.4 328.2,283.4 314.2,297.4" fill="#dfe4d6"/>
<rect x="259.2" y="297.4" width="55" height="57" fill="url(#gf)"/>
<polygon points="259.2,297.4 273.2,297.4 273.2,340.4 259.2,354.4" fill="#ffffff" opacity="0.1"/>
<polygon points="259.2,354.4 273.2,340.4 314.2,340.4 314.2,354.4" fill="#ffffff" opacity="0.1"/>
<path d="M259.2,297.4 h55 M314.2,297.4 l14,-14" stroke="#f2f5e8" stroke-width="0.6" fill="none" opacity="0.7"/>
<text x="295.5" y="292.8" font-size="6.65" fill="#6b6e66" text-anchor="middle" font-style="italic" transform="translate(295.5,292.8) skewX(-12) translate(-295.5,-292.8)">园区节点</text>
<text x="287.5" y="327.3" font-size="10.2" fill="#55564f" text-anchor="middle" font-weight="bold">工业互联网</text>
<text x="287.5" y="341.8" font-size="10.2" fill="#55564f" text-anchor="middle" font-weight="bold">标识解析</text>
<polygon points="124,234.3 138,220.3 138,277.3 124,291.3" fill="url(#gs)"/>
<polygon points="69,234.3 83,220.3 138,220.3 124,234.3" fill="#dfe4d6"/>
<rect x="69" y="234.3" width="55" height="57" fill="url(#gf)"/>
<polygon points="69,234.3 83,234.3 83,277.3 69,291.3" fill="#ffffff" opacity="0.1"/>
<polygon points="69,291.3 83,277.3 124,277.3 124,291.3" fill="#ffffff" opacity="0.1"/>
<path d="M69,234.3 h55 M124,234.3 l14,-14" stroke="#f2f5e8" stroke-width="0.6" fill="none" opacity="0.7"/>
<text x="95.8" y="260.2" font-size="10.2" fill="#55564f" text-anchor="middle" font-weight="bold">资源协同</text>
<text x="95.8" y="274.7" font-size="10.2" fill="#55564f" text-anchor="middle" font-weight="bold">能力</text>
<polygon points="187.4,234.3 201.4,220.3 201.4,277.3 187.4,291.3" fill="url(#gs)"/>
<polygon points="132.4,234.3 146.4,220.3 201.4,220.3 187.4,234.3" fill="#dfe4d6"/>
<rect x="132.4" y="234.3" width="55" height="57" fill="url(#gf)"/>
<polygon points="132.4,234.3 146.4,234.3 146.4,277.3 132.4,291.3" fill="#ffffff" opacity="0.1"/>
<polygon points="132.4,291.3 146.4,277.3 187.4,277.3 187.4,291.3" fill="#ffffff" opacity="0.1"/>
<path d="M132.4,234.3 h55 M187.4,234.3 l14,-14" stroke="#f2f5e8" stroke-width="0.6" fill="none" opacity="0.7"/>
<text x="158.2" y="260.2" font-size="10.2" fill="#55564f" text-anchor="middle" font-weight="bold">领域集成</text>
<text x="158.2" y="274.7" font-size="10.2" fill="#55564f" text-anchor="middle" font-weight="bold">能力</text>
<polygon points="250.8,234.3 264.8,220.3 264.8,277.3 250.8,291.3" fill="url(#gs)"/>
<polygon points="195.8,234.3 209.8,220.3 264.8,220.3 250.8,234.3" fill="#dfe4d6"/>
<rect x="195.8" y="234.3" width="55" height="57" fill="url(#gf)"/>
<polygon points="195.8,234.3 209.8,234.3 209.8,277.3 195.8,291.3" fill="#ffffff" opacity="0.1"/>
<polygon points="195.8,291.3 209.8,277.3 250.8,277.3 250.8,291.3" fill="#ffffff" opacity="0.1"/>
<path d="M195.8,234.3 h55 M250.8,234.3 l14,-14" stroke="#f2f5e8" stroke-width="0.6" fill="none" opacity="0.7"/>
<text x="225" y="260.2" font-size="10.2" fill="#55564f" text-anchor="middle" font-weight="bold">产学研用</text>
<text x="225" y="274.7" font-size="10.2" fill="#55564f" text-anchor="middle" font-weight="bold">协同能力</text>
<polygon points="124,171.2 138,157.2 138,214.2 124,228.2" fill="url(#gs)"/>
<polygon points="69,171.2 83,157.2 138,157.2 124,171.2" fill="#dfe4d6"/>
<rect x="69" y="171.2" width="55" height="57" fill="url(#gf)"/>
<polygon points="69,171.2 83,171.2 83,214.2 69,228.2" fill="#ffffff" opacity="0.1"/>
<polygon points="69,228.2 83,214.2 124,214.2 124,228.2" fill="#ffffff" opacity="0.1"/>
<path d="M69,171.2 h55 M124,171.2 l14,-14" stroke="#f2f5e8" stroke-width="0.6" fill="none" opacity="0.7"/>
<text x="105.3" y="166.6" font-size="6.65" fill="#6b6e66" text-anchor="middle" font-style="italic" transform="translate(105.3,166.6) skewX(-12) translate(-105.3,-166.6)">产业绿色化增加值</text>
<text x="95.5" y="204.9" font-size="10.2" fill="#55564f" text-anchor="middle" font-weight="bold">实施效果</text>
<polygon points="187.4,171.2 201.4,157.2 201.4,214.2 187.4,228.2" fill="url(#gs)"/>
<polygon points="132.4,171.2 146.4,157.2 201.4,157.2 187.4,171.2" fill="#dfe4d6"/>
<rect x="132.4" y="171.2" width="55" height="57" fill="url(#gf)"/>
<polygon points="132.4,171.2 146.4,171.2 146.4,214.2 132.4,228.2" fill="#ffffff" opacity="0.1"/>
<polygon points="132.4,228.2 146.4,214.2 187.4,214.2 187.4,228.2" fill="#ffffff" opacity="0.1"/>
<path d="M132.4,171.2 h55 M187.4,171.2 l14,-14" stroke="#f2f5e8" stroke-width="0.6" fill="none" opacity="0.7"/>
<text x="168.7" y="166.6" font-size="6.65" fill="#6b6e66" text-anchor="middle" font-style="italic" transform="translate(168.7,166.6) skewX(-12) translate(-168.7,-166.6)">清洁能源使用占比</text>
<text x="161.6" y="204.9" font-size="10.2" fill="#55564f" text-anchor="middle" font-weight="bold">能耗控制</text>
<polygon points="250.8,171.2 264.8,157.2 264.8,214.2 250.8,228.2" fill="url(#gs)"/>
<polygon points="195.8,171.2 209.8,157.2 264.8,157.2 250.8,171.2" fill="#dfe4d6"/>
<rect x="195.8" y="171.2" width="55" height="57" fill="url(#gf)"/>
<polygon points="195.8,171.2 209.8,171.2 209.8,214.2 195.8,228.2" fill="#ffffff" opacity="0.1"/>
<polygon points="195.8,228.2 209.8,214.2 250.8,214.2 250.8,228.2" fill="#ffffff" opacity="0.1"/>
<path d="M195.8,171.2 h55 M250.8,171.2 l14,-14" stroke="#f2f5e8" stroke-width="0.6" fill="none" opacity="0.7"/>
<text x="232.1" y="166.6" font-size="6.65" fill="#6b6e66" text-anchor="middle" font-style="italic" transform="translate(232.1,166.6) skewX(-12) translate(-232.1,-166.6)">资源循环利用</text>
<text x="225.8" y="204.9" font-size="10.2" fill="#55564f" text-anchor="middle" font-weight="bold">碳排放控制</text>
</g>
<g stroke="#55564a" stroke-width="0.9" fill="#55564a">
<line x1="69" y1="171" x2="516" y2="171"/>
<polygon points="521,171 513,168 513,174" stroke="none"/>
<line x1="69" y1="171" x2="132" y2="107.5"/>
<polygon points="135.5,104 127.6,107.4 132.2,112" stroke="none"/>
</g>
<!-- boxes -->
<rect x="602.40" y="106.40" width="463.10" height="159.80" fill="none" stroke="#6a9cee" stroke-width="2.6"/>
<rect x="602.40" y="282.40" width="463.10" height="161.20" fill="none" stroke="#6a9cee" stroke-width="2.6"/>
<rect x="497.20" y="463.30" width="568.30" height="137.50" fill="none" stroke="#6a9cee" stroke-width="2.6"/>
<!-- logo -->
<g id="logo">
<clipPath id="gc"><path d="M1036.7,31 L1061.3,5.3 L1000,-10 L1000,70 L1055.3,62.5 Z"/></clipPath>
<g fill="#fff" clip-path="url(#gc)"><path fill-rule="evenodd" d="M1010.3,31 a20.4,20.4 0 1 0 40.8,0 a20.4,20.4 0 1 0 -40.8,0 Z M1014.1,31 a17.6,17.6 0 1 0 35.2,0 a17.6,17.6 0 1 0 -35.2,0 Z"/><polygon points="1049.6,34.2 1055.1,33.9 1055.1,28.1 1049.6,27.8"/><polygon points="1048.7,24.3 1053.3,21.3 1050.4,16.2 1045.5,18.8"/><polygon points="1042.9,16.2 1045.5,11.3 1040.4,8.4 1037.4,13"/><polygon points="1033.9,12.1 1033.6,6.6 1027.8,6.6 1027.5,12.1"/><polygon points="1024,13 1021,8.4 1015.9,11.3 1018.5,16.2"/><polygon points="1015.9,18.8 1011,16.2 1008.1,21.3 1012.7,24.3"/><polygon points="1011.8,27.8 1006.3,28.1 1006.3,33.9 1011.8,34.2"/><polygon points="1012.7,37.7 1008.1,40.7 1011,45.8 1015.9,43.2"/><polygon points="1018.5,45.8 1015.9,50.7 1021,53.6 1024,49"/><polygon points="1027.5,49.9 1027.8,55.4 1033.6,55.4 1033.9,49.9"/><polygon points="1037.4,49 1040.4,53.6 1045.5,50.7 1042.9,45.8"/><polygon points="1045.5,43.2 1050.4,45.8 1053.3,40.7 1048.7,37.7"/></g>
<path d="M1026,50.2 Q1040,51 1054,47.7 Q1041,53.2 1028,53.6 Z" fill="#fff"/>
<path d="M1040,25 L1050.4,19" stroke="#fff" stroke-width="1" fill="none"/>
<path d="M1049.2,21.6 q-3,2 -1.4,5.2 q2,2.6 6,1.4" stroke="#fff" stroke-width="1.7" fill="none"/>
<circle cx="1053.9" cy="20.7" r="1.5" stroke="#fff" stroke-width="0.7" fill="none"/>
<text x="1029.6" y="29.3" font-size="10.8" font-weight="bold" font-style="italic" fill="#fff" text-anchor="middle" textLength="21" lengthAdjust="spacingAndGlyphs">百城</text>
<text x="1034" y="43.8" font-size="11.4" font-weight="bold" font-style="italic" fill="#fff" text-anchor="middle" textLength="31" lengthAdjust="spacingAndGlyphs">千园行</text>
</g>
</svg>

<div class="lab" style="left:36.6px;top:197.8px">绿色低碳</div>
<div class="lab" style="left:36.6px;top:262.8px">协同发展</div>
<div class="lab" style="left:36.6px;top:328.3px">数字底座</div>
<div class="lab" style="left:36.2px;top:394.3px">管理与服务</div>
<div class="lab" style="left:37px;top:450.8px">发展成效</div>

<div class="red" style="left:66.2px;top:98.4px">三级指标</div>
<div class="red" style="left:446.8px;top:184px">二级指标</div>
<div class="red" style="left:17.2px;top:495.7px">一级指标</div>



<div class="tag" style="left:634px;top:83px;width:112px;height:36px"><span>评价指标</span></div>
<div class="tag" style="left:634px;top:264px;width:112px;height:36px"><span>评价方法</span></div>
<div class="tag" style="left:546px;top:447.6px;width:112px"><span>意义</span></div>



<div class="fx" style="left:613.8px;top:358px;width:232px;height:73.5px"></div>
<div class="fx" style="left:845.5px;top:360px;width:210.5px;height:57.8px"></div>
<svg class="fm" width="1080" height="607" viewBox="0 0 1080 607">
<g fill="#333" stroke="#333" stroke-width="0.25" font-style="italic">
<text x="626.5" y="399" font-size="21">w</text>
<text x="647" y="400" font-size="23" font-style="normal">=</text>
<g id="sig" font-style="normal">
<path d="M0,0 H21 L23,6.5 H22 Q20.5,2.2 15,2.2 H4.8 L13.6,14 L3.8,27 H16 Q21,27 22.6,22.6 H23.6 L21.6,30 H0 V29 L9.8,15.6 L0,1.2 Z" transform="translate(668.7,377.8)"/>
<path d="M0,0 H21 L23,6.5 H22 Q20.5,2.2 15,2.2 H4.8 L13.6,14 L3.8,27 H16 Q21,27 22.6,22.6 H23.6 L21.6,30 H0 V29 L9.8,15.6 L0,1.2 Z" transform="translate(697.7,377.8)"/>
<path d="M0,0 H21 L23,6.5 H22 Q20.5,2.2 15,2.2 H4.8 L13.6,14 L3.8,27 H16 Q21,27 22.6,22.6 H23.6 L21.6,30 H0 V29 L9.8,15.6 L0,1.2 Z" transform="translate(727.7,377.8)"/>
</g>
<text x="674" y="374" font-size="13.5" textLength="11.8" lengthAdjust="spacingAndGlyphs">m</text>
<text x="706.6" y="374" font-size="13.5" textLength="8.4" lengthAdjust="spacingAndGlyphs">n</text>
<text x="739" y="374" font-size="13.5">l</text>
<text x="669.6" y="421" font-size="13.5" textLength="22.6" lengthAdjust="spacing">i<tspan font-style="normal">=1</tspan></text>
<text x="699.6" y="421" font-size="13.5" textLength="22.6" lengthAdjust="spacing">j<tspan font-style="normal">=1</tspan></text>
<text x="728.8" y="421" font-size="13.5" textLength="24.6" lengthAdjust="spacing">k<tspan font-style="normal">=1</tspan></text>
<rect x="755.2" y="409" width="0.8" height="15" fill="#555" stroke="none"/>
<text x="759.2" y="400" font-size="21">α</text><text x="771.5" y="404.5" font-size="13.5">i</text>
<text x="777.3" y="400" font-size="21">β</text><text x="789.6" y="404.5" font-size="13.5">j</text>
<text x="796" y="400" font-size="21" textLength="10.5" lengthAdjust="spacingAndGlyphs">γ</text><text x="807.4" y="404.5" font-size="13.5">k</text>
<text x="815.6" y="400" font-size="21">X</text><text x="828.6" y="404.5" font-size="13.5">k</text>

<text x="860.5" y="400" font-size="18.5">Y</text><text x="869" y="404.2" font-size="12.5">i</text>
<text x="876.8" y="400.8" font-size="19" font-style="normal">=</text>
<rect x="892" y="394.7" width="96" height="1.4" stroke="none"/>
<text x="902.6" y="389.6" font-size="18" textLength="75" lengthAdjust="spacing">(X<tspan font-size="12.5" dy="4">i</tspan><tspan dy="-4"> − X</tspan><tspan font-size="12.5" dy="4">min</tspan><tspan dy="-4">)</tspan></text>
<text x="892.6" y="414.2" font-size="18" textLength="95" lengthAdjust="spacing">(X<tspan font-size="12.5" dy="4">max</tspan><tspan dy="-4"> − X</tspan><tspan font-size="12.5" dy="4">min</tspan><tspan dy="-4">)</tspan></text>
<text x="993" y="399.6" font-size="11" font-style="normal">∗</text>
<text x="1002.6" y="402" font-size="18" textLength="48.5" lengthAdjust="spacing">(b − a)</text>
</g>
<rect x="846" y="417.8" width="216" height="16" fill="#02125c"/>
</svg>


<div class="wm" style="left:-50.5px;top:71.6px">中国信通院</div>
<div class="wm" style="left:195.5px;top:71.6px">中国信通院</div>
<div class="wm" style="left:441.5px;top:71.6px">中国信通院</div>
<div class="wm" style="left:687.5px;top:71.6px">中国信通院</div>
<div class="wm" style="left:933.5px;top:71.6px">中国信通院</div>
<div class="wm" style="left:-50.5px;top:278.6px">中国信通院</div>
<div class="wm" style="left:195.5px;top:278.6px">中国信通院</div>
<div class="wm" style="left:441.5px;top:278.6px">中国信通院</div>
<div class="wm" style="left:687.5px;top:278.6px">中国信通院</div>
<div class="wm" style="left:933.5px;top:278.6px">中国信通院</div>
<div class="wm" style="left:-50.5px;top:490.6px">中国信通院</div>
<div class="wm" style="left:195.5px;top:490.6px">中国信通院</div>
<div class="wm" style="left:441.5px;top:490.6px">中国信通院</div>
<div class="wm" style="left:687.5px;top:490.6px">中国信通院</div>
<div class="wm" style="left:933.5px;top:490.6px">中国信通院</div>
<div class="txt" style="left:615.7px;top:131px">基础设施、管理保障、协同发展、绿色低碳、发<br>展成效<b><i>5</i>个</b>要素作为评价的<b>一级指标</b>，并对各项<br>一级指标进行降维细化，形成工业互联网网络、<br>工业互联网标识解析等<b><i>21</i>项二级指标</b>，<b><i>69</i>项三级</b><br><b>指标</b>的综合评估体系。</div>
<div class="txt" style="left:629px;top:310.4px;line-height:24px">基于各项指标的权重与专家的评价分值，利用<br>计算模型进行计算总结。</div>
<div class="txt" style="left:509.7px;top:495px;line-height:24.4px">帮助园区定位自身所处发展阶段、诊断园区存在问题、识别园<br>区工作潜在风险，从而帮助园区明确改造演进路径、确定阶段<br>化升级目标、制定针对性的解决方案、实施科学化改进手段、<br>提升行业监管力度、助力园区的稳定、创新、规范化发展。</div>
</div>
</body>
</html>
